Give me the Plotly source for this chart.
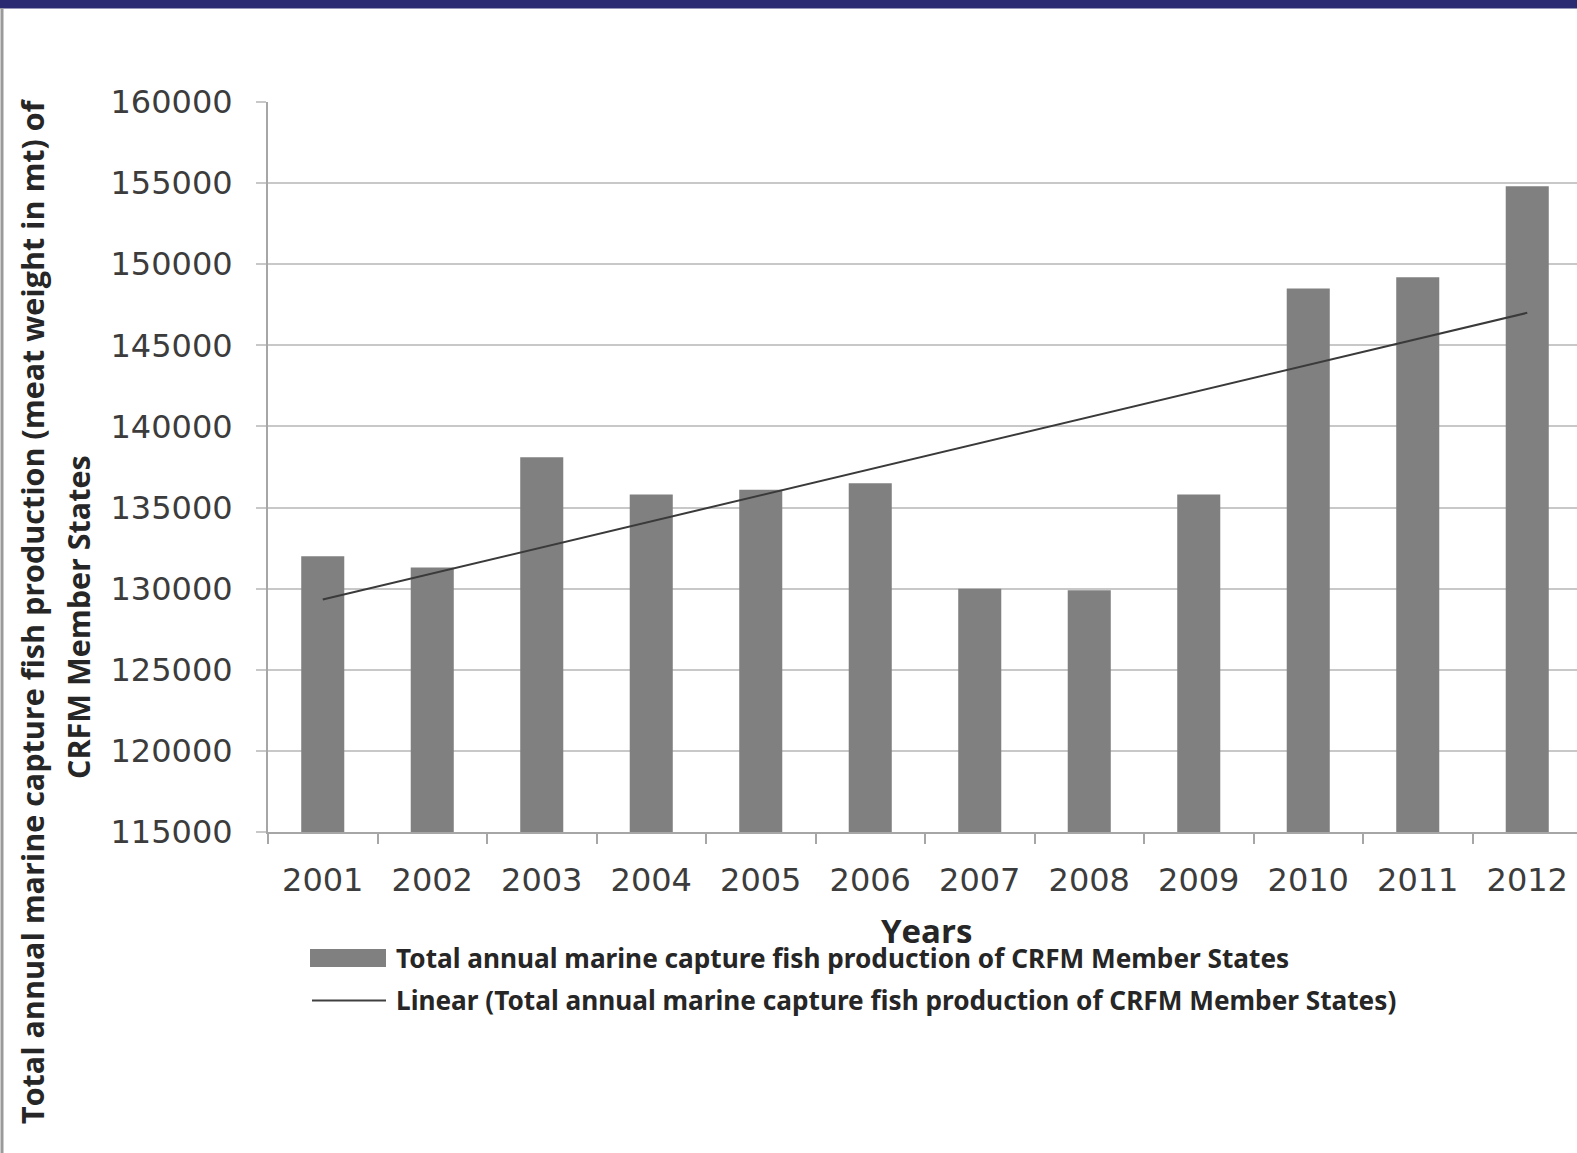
import numpy as np
import plotly.graph_objects as go

years = ["2001", "2002", "2003", "2004", "2005", "2006",
         "2007", "2008", "2009", "2010", "2011", "2012"]
production = [132000, 131300, 138100, 135800, 136100, 136500,
              130000, 129900, 135800, 148500, 149200, 154800]
y_ticks = [115000, 120000, 125000, 130000, 135000, 140000, 145000, 150000, 155000, 160000]

bar_name = "Total annual marine capture fish production of CRFM Member States"
line_name = "Linear (Total annual marine capture fish production of CRFM Member States)"
y_title_1 = "Total annual marine capture fish production (meat weight in mt) of"
y_title_2 = "CRFM Member States"
x_title = "Years"

# linear trend (least squares) of the series
idx = np.arange(1, len(production) + 1)
slope, intercept = np.polyfit(idx, production, 1)
trend = slope * idx + intercept

W, H = 1577, 1153
ML, MR, MT, MB = 268, 0, 102, 321
PW = W - ML - MR
PH = H - MT - MB


def px(x):
    return (x - ML) / PW


def py(y):
    return (H - MB - y) / PH


fig = go.Figure()
fig.add_trace(go.Bar(x=years, y=production, marker=dict(color="#808080", line=dict(width=0)),
                     name=bar_name, showlegend=False))
fig.add_trace(go.Scatter(x=years, y=trend, mode="lines", line=dict(color="#3a3a3a", width=2),
                         name=line_name, showlegend=False))

tick_font = dict(family="DejaVu Sans", size=32, color="#3c3c3c")

fig.update_layout(
    width=W, height=H,
    margin=dict(l=ML, r=MR, t=MT, b=MB, pad=0),
    paper_bgcolor="white", plot_bgcolor="white",
    bargap=0.607,
    showlegend=False,
    xaxis=dict(
        type="category", range=[-0.5, -0.5 + PW / 109.5],
        showgrid=False, showline=True, linecolor="#a6a6a6", linewidth=2,
        ticks="outside", tickson="boundaries", ticklen=10, tickwidth=2, tickcolor="#a6a6a6",
        tickfont=tick_font, ticklabelstandoff=19,
    ),
    yaxis=dict(
        range=[115000, 160000], tickvals=y_ticks, tickformat="d",
        showgrid=True, gridcolor="#c8c8c8", gridwidth=2,
        showline=True, linecolor="#a6a6a6", linewidth=2,
        ticks="outside", ticklen=10, tickwidth=2, tickcolor="#c8c8c8",
        tickfont=tick_font, ticklabelstandoff=17, zeroline=False,
    ),
)

shapes = [
    # top band
    dict(type="rect", xref="paper", yref="paper", x0=px(0), x1=px(W), y0=py(8.5), y1=py(-2),
         fillcolor="#2a2a72", line=dict(width=0), layer="above"),
    # left frame line
    dict(type="line", xref="paper", yref="paper", x0=px(2), x1=px(2), y0=py(8), y1=py(H),
         line=dict(color="#9a9a9a", width=3)),
    # legend swatches
    dict(type="rect", xref="paper", yref="paper", x0=px(310), x1=px(386), y0=py(967), y1=py(949),
         fillcolor="#808080", line=dict(width=0)),
    dict(type="line", xref="paper", yref="paper", x0=px(312), x1=px(386), y0=py(1000.5), y1=py(1000.5),
         line=dict(color="#404040", width=2)),
]
fig.update_layout(shapes=shapes)

legend_font = dict(family="Noto Sans", size=26.2, color="#262626", weight="bold")
title_font = dict(family="Open Sans", size=30.5, color="#262626", weight="bold")
annotations = [
    dict(text=bar_name, x=px(394), y=py(958), xref="paper", yref="paper",
         xanchor="left", yanchor="middle", showarrow=False, font=legend_font),
    dict(text=line_name, x=px(394), y=py(1000), xref="paper", yref="paper",
         xanchor="left", yanchor="middle", showarrow=False, font=legend_font),
    dict(text=x_title, x=px(926), y=py(930), xref="paper", yref="paper",
         xanchor="center", yanchor="middle", showarrow=False,
         font=dict(family="Open Sans", size=33, color="#262626", weight="bold")),
    dict(text=y_title_1, x=px(32), y=py(611), xref="paper", yref="paper", textangle=-90,
         xanchor="center", yanchor="middle", showarrow=False, font=title_font),
    dict(text=y_title_2, x=px(78), y=py(617), xref="paper", yref="paper", textangle=-90,
         xanchor="center", yanchor="middle", showarrow=False, font=title_font),
]
fig.update_layout(annotations=annotations)

fig.write_html("out.html")
